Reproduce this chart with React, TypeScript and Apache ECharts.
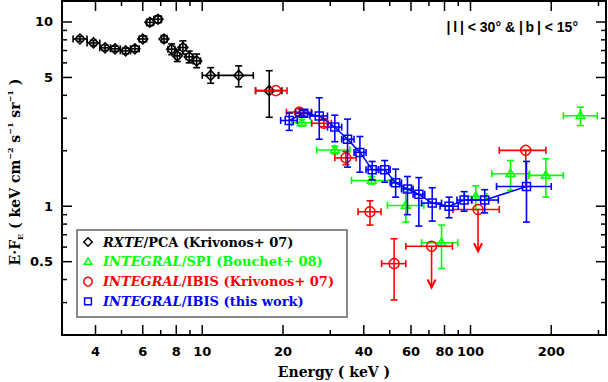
import React, { useEffect, useRef } from "react";
import * as echarts from "echarts";

// Each row: [E (keV), E·F_E, E_lo, E_hi, F_lo, F_hi, upperLimit]
const rxtePca = [
  [3.5, 8.09, 3.3, 3.72, 7.85, 8.35],
  [3.93, 7.7, 3.72, 4.15, 7.45, 7.95],
  [4.34, 7.24, 4.15, 4.55, 7.0, 7.5],
  [4.73, 7.15, 4.55, 4.95, 6.92, 7.4],
  [5.18, 6.97, 4.95, 5.4, 6.72, 7.22],
  [5.61, 7.15, 5.4, 5.82, 6.9, 7.42],
  [6.0, 8.09, 5.82, 6.2, 7.8, 8.4],
  [6.38, 9.96, 6.2, 6.6, 9.55, 10.35],
  [6.84, 10.35, 6.6, 7.05, 9.9, 10.8],
  [7.2, 8.09, 7.05, 7.4, 7.75, 8.45],
  [7.69, 7.12, 7.45, 7.9, 6.65, 7.6],
  [8.07, 6.55, 7.9, 8.25, 6.1, 7.05],
  [8.47, 7.27, 8.25, 8.7, 6.7, 7.9],
  [8.94, 6.47, 8.7, 9.2, 6.0, 6.95],
  [9.53, 6.15, 9.25, 9.85, 5.65, 6.7],
  [10.75, 5.13, 10.0, 11.5, 4.65, 5.65],
  [13.67, 5.13, 11.5, 15.5, 4.45, 5.78],
  [17.77, 4.24, 15.8, 19.8, 3.04, 5.44],
];

const spiBouchet = [
  [23.5, 2.84, 21.5, 25.5, 2.72, 2.96],
  [31.2, 2.02, 26.7, 35.5, 1.92, 2.12],
  [42.8, 1.38, 36.0, 51.5, 1.32, 1.45],
  [57.4, 1.01, 49.0, 67.0, 0.82, 1.2],
  [78.0, 0.634, 65.7, 89.7, 0.459, 0.79],
  [104.6, 1.13, 95.0, 115.0, 0.96, 1.29],
  [141.0, 1.5, 120.0, 166.0, 1.22, 1.77],
  [191.0, 1.47, 165.0, 222.0, 1.12, 1.81],
  [257.0, 3.1, 222.0, 297.0, 2.74, 3.45],
];

const ibisKrivonos = [
  [18.8, 4.24, 15.8, 20.7, 4.24, 4.24, 0],
  [23.0, 3.24, 20.6, 25.5, 3.1, 3.38, 0],
  [28.4, 2.82, 25.6, 30.3, 2.7, 2.95, 0],
  [34.3, 1.83, 31.2, 37.5, 1.68, 1.98, 0],
  [42.2, 0.933, 38.1, 46.4, 0.79, 1.07, 0],
  [51.9, 0.488, 46.6, 57.4, 0.31, 0.666, 0],
  [71.6, 0.606, 57.4, 85.6, 0.362, 0.606, 1],
  [106.7, 0.96, 86.0, 128.0, 0.57, 0.96, 1],
  [160.7, 2.01, 128.0, 191.0, 1.28, 2.01, 0],
];

const ibisThisWork = [
  [21.1, 2.92, 19.6, 22.6, 2.58, 3.2],
  [23.9, 3.2, 22.3, 25.6, 3.08, 3.32],
  [27.3, 3.09, 25.2, 29.3, 2.31, 3.88],
  [31.2, 2.69, 29.3, 33.1, 2.24, 3.12],
  [34.8, 2.31, 33.1, 36.8, 1.63, 2.97],
  [38.7, 1.96, 36.8, 40.8, 1.53, 2.39],
  [43.0, 1.58, 40.8, 45.4, 1.39, 1.75],
  [47.9, 1.58, 45.4, 50.2, 1.35, 1.77],
  [52.6, 1.34, 50.2, 55.3, 1.12, 1.59],
  [58.2, 1.24, 55.3, 61.1, 0.9, 1.45],
  [64.2, 1.16, 61.1, 67.5, 0.78, 1.43],
  [72.0, 1.04, 65.7, 78.0, 0.83, 1.26],
  [83.2, 1.0, 77.0, 90.0, 0.866, 1.12],
  [94.7, 1.08, 89.0, 101.0, 0.94, 1.2],
  [113.0, 1.08, 101.0, 127.0, 0.92, 1.23],
  [161.7, 1.28, 125.0, 200.0, 0.82, 1.75],
];

const xMajorTicks = [4, 6, 8, 10, 20, 40, 60, 80, 100, 200];
const xTickLabels = ["4", "6", "8", "10", "20", "40", "60", "80", "100", "200"];
const xMinorTicks = [5, 7, 9, 30, 50, 70, 90, 300];
const yMajorTicks = [0.5, 1, 5, 10];
const yTickLabels = ["0.5", "1", "5", "10"];
const yMinorTicks = [0.2, 0.3, 0.4, 0.6, 0.7, 0.8, 0.9, 2, 3, 4, 6, 7, 8, 9];

const legendItalic = ["RXTE", "INTEGRAL", "INTEGRAL", "INTEGRAL"];
const legendRest = ["/PCA (Krivonos+ 07)", "/SPI (Bouchet+ 08)", "/IBIS (Krivonos+ 07)", "/IBIS (this work)"];
const seriesColors = ["#000000", "#00ff00", "#ff0000", "#0000ff"];
const seriesSymbols = ["diamond", "triangle", "circle", "square"];

const SERIF = "'DejaVu Serif', serif";
const SANS = "'DejaVu Sans', sans-serif";

function symbolShape(kind: string, x: number, y: number, color: string, s = 1): any {
  const style = { stroke: color, fill: "none", lineWidth: 1.5 };
  if (kind === "diamond") {
    const r = 5 * s;
    return { type: "polygon", shape: { points: [[x, y - r], [x + r, y], [x, y + r], [x - r, y]] }, style };
  }
  if (kind === "circle") return { type: "circle", shape: { cx: x, cy: y, r: 5 * s }, style };
  if (kind === "square") {
    const h = 4 * s;
    return { type: "rect", shape: { x: x - h, y: y - h, width: 2 * h, height: 2 * h }, style };
  }
  const r = 4.6 * s;
  return { type: "polygon", shape: { points: [[x, y - r], [x + r * 0.95, y + r * 0.6], [x - r * 0.95, y + r * 0.6]] }, style };
}

function ln(x1: number, y1: number, x2: number, y2: number, color: string, w = 1.6): any {
  return { type: "line", shape: { x1, y1, x2, y2 }, style: { stroke: color, lineWidth: w } };
}

function errRender(color: string, kind: string) {
  return (params: any, api: any) => {
    const E = api.value(0), F = api.value(1);
    const El = api.value(2), Eh = api.value(3), Fl = api.value(4), Fh = api.value(5);
    const ul = api.value(6);
    const c = api.coord([E, F]);
    const xl = api.coord([El, F])[0];
    const xh = api.coord([Eh, F])[0];
    const yl = api.coord([E, Fl])[1];
    const yh = api.coord([E, Fh])[1];
    const cap = 3.5;
    const ch: any[] = [];
    ch.push(ln(xl, c[1], xh, c[1], color));
    ch.push(ln(xl, c[1] - cap, xl, c[1] + cap, color));
    ch.push(ln(xh, c[1] - cap, xh, c[1] + cap, color));
    if (ul === 1) {
      ch.push(ln(c[0], c[1], c[0], yl, color));
      ch.push({ type: "polyline", shape: { points: [[c[0] - 4, yl - 8], [c[0], yl], [c[0] + 4, yl - 8]] }, style: { stroke: color, lineWidth: 2, fill: "none" } });
    } else if (Math.abs(yl - yh) > 0.5) {
      ch.push(ln(c[0], yh, c[0], yl, color));
      ch.push(ln(c[0] - cap, yh, c[0] + cap, yh, color));
      ch.push(ln(c[0] - cap, yl, c[0] + cap, yl, color));
    }
    ch.push(symbolShape(kind, c[0], c[1], color));
    return { type: "group", children: ch };
  };
}

function xTickRender(major: boolean) {
  return (params: any, api: any) => {
    const cs = params.coordSys;
    const x = api.coord([api.value(0), 1])[0];
    const len = major ? 10 : 5;
    const b = cs.y + cs.height;
    const t = cs.y;
    const ch: any[] = [ln(x, b, x, b - len, "#000", 1.5), ln(x, t, x, t + len, "#000", 1.5)];
    if (major) {
      ch.push({
        type: "text",
        x,
        y: b + 16,
        style: { text: xTickLabels[params.dataIndex], fill: "#000", font: `bold 13px ${SANS}`, align: "center", verticalAlign: "middle" },
      });
    }
    return { type: "group", children: ch };
  };
}

function yTickRender(major: boolean) {
  return (params: any, api: any) => {
    const cs = params.coordSys;
    const y = api.coord([10, api.value(1)])[1];
    const len = major ? 10 : 5;
    const l = cs.x;
    const r = cs.x + cs.width;
    const ch: any[] = [ln(l, y, l + len, y, "#000", 1.5), ln(r, y, r - len, y, "#000", 1.5)];
    if (major) {
      ch.push({
        type: "text",
        x: l - 9,
        y,
        style: { text: yTickLabels[params.dataIndex], fill: "#000", font: `bold 13px ${SANS}`, align: "right", verticalAlign: "middle" },
      });
    }
    return { type: "group", children: ch };
  };
}

export default function App() {
  const ref = useRef<HTMLDivElement>(null);
  useEffect(() => {
    if (!ref.current) return;
    const chart = echarts.init(ref.current, null, { renderer: "svg" });
    const datasets = [rxtePca, spiBouchet, ibisKrivonos, ibisThisWork];
    const names = ["RXTE/PCA", "SPI", "IBIS K07", "IBIS this work"];

    const rich: any = {};
    seriesColors.forEach((col, i) => {
      rich["i" + i] = { fill: col, fontStyle: "italic", fontWeight: "bold", fontFamily: SERIF, fontSize: 13 };
      rich["n" + i] = { fill: col, fontWeight: "bold", fontFamily: SERIF, fontSize: 13 };
    });

    const legendBox = { left: 77, top: 230, width: 270, height: 87 };
    const legendGraphics: any[] = [
      {
        type: "rect",
        shape: { x: legendBox.left, y: legendBox.top, width: legendBox.width, height: legendBox.height },
        style: { fill: "#fff", stroke: "#888", lineWidth: 2 },
        z: 100,
      },
    ];
    legendItalic.forEach((it, i) => {
      const y = 242 + i * 19.8;
      const sym = symbolShape(seriesSymbols[i], 88, y, seriesColors[i], 0.85);
      sym.z = 101;
      legendGraphics.push(sym);
      legendGraphics.push({
        type: "text",
        x: 103,
        y,
        z: 101,
        style: {
          text: `{i${i}|${it}}{n${i}|${legendRest[i]}}`,
          rich,
          align: "left",
          verticalAlign: "middle",
        },
      });
    });

    const yName = {
      type: "text",
      x: 15,
      y: 172,
      rotation: Math.PI / 2,
      style: {
        text: "{a|E·F}{b|E}{a| ( keV cm}{c|−2}{a| s}{c|−1}{a| sr}{c|−1}{a| )}",
        align: "center",
        verticalAlign: "middle",
        rich: {
          a: { fill: "#000", fontWeight: "bold", fontFamily: SERIF, fontSize: 14, lineHeight: 18 },
          b: { fill: "#000", fontWeight: "bold", fontFamily: SERIF, fontSize: 8, lineHeight: 10, verticalAlign: "bottom" },
          c: { fill: "#000", fontWeight: "bold", fontFamily: SERIF, fontSize: 8, lineHeight: 10, verticalAlign: "top" },
        },
      },
    };

    const series: any[] = datasets.map((d, i) => ({
      type: "custom",
      name: names[i],
      data: d,
      encode: { x: 0, y: 1 },
      renderItem: errRender(seriesColors[i], seriesSymbols[i]),
      z: 3 + i,
    }));
    series.splice(3, 0, {
      type: "line",
      name: "IBIS this work line",
      data: ibisThisWork.map((r) => [r[0], r[1]]),
      showSymbol: false,
      symbol: "none",
      lineStyle: { color: "#0000ff", width: 1.5 },
      z: 6,
    });
    series.push(
      { type: "custom", data: xMajorTicks.map((v) => [v, 1]), encode: { x: 0, y: 1 }, renderItem: xTickRender(true), z: 10 },
      { type: "custom", data: xMinorTicks.map((v) => [v, 1]), encode: { x: 0, y: 1 }, renderItem: xTickRender(false), z: 10 },
      { type: "custom", data: yMajorTicks.map((v) => [10, v]), encode: { x: 0, y: 1 }, renderItem: yTickRender(true), z: 10 },
      { type: "custom", data: yMinorTicks.map((v) => [10, v]), encode: { x: 0, y: 1 }, renderItem: yTickRender(false), z: 10 }
    );

    chart.setOption({
      animation: false,
      backgroundColor: "#fff",
      grid: { left: 62, right: 2, top: 1, bottom: 47, show: true, borderColor: "#000", borderWidth: 2, backgroundColor: "transparent" },
      xAxis: {
        type: "log",
        logBase: 10,
        min: 3,
        max: 320,
        axisLine: { show: false },
        axisTick: { show: false },
        axisLabel: { show: false },
        splitLine: { show: false },
        minorTick: { show: false },
      },
      yAxis: {
        type: "log",
        logBase: 10,
        min: 0.2,
        max: 13,
        axisLine: { show: false },
        axisTick: { show: false },
        axisLabel: { show: false },
        splitLine: { show: false },
        minorTick: { show: false },
      },
      series,
      graphic: [
        ...legendGraphics,
        yName,
        {
          type: "text",
          x: 334,
          y: 372,
          style: { text: "Energy ( keV )", fill: "#000", font: `bold 14px ${SERIF}`, align: "center", verticalAlign: "middle" },
        },
        {
          type: "text",
          x: 578,
          y: 27,
          style: { text: "|\u2009l\u2009| < 30° & |\u2009b\u2009| < 15°", fill: "#000", font: "bold 14px 'Liberation Sans', sans-serif", align: "right", verticalAlign: "middle" },
        },
      ],
    });
    return () => chart.dispose();
  }, []);
  return <div ref={ref} style={{ position: "fixed", left: 0, top: 0, width: 608, height: 382, background: "#fff" }} />;
}
